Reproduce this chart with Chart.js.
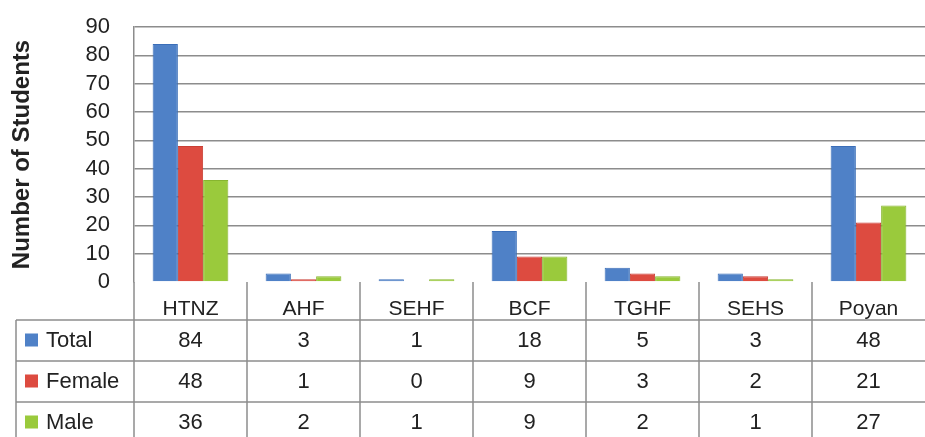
<!DOCTYPE html>
<html lang="en">
<head>
    <meta charset="UTF-8">
    <title>Number of Students</title>
    <script src="https://cdn.jsdelivr.net/npm/chart.js"></script>
    <style>
        body {
            margin: 0;
            background-color: #ffffff;
        }
        #chart {
            display: block;
        }
    </style>
</head>
<body>
    <canvas id="chart" width="925" height="437"></canvas>

    <script>
        // data
        const categories = ['HTNZ', 'AHF', 'SEHF', 'BCF', 'TGHF', 'SEHS', 'Poyan'];
        const totalValues = [84, 3, 1, 18, 5, 3, 48];
        const femaleValues = [48, 1, 0, 9, 3, 2, 21];
        const maleValues = [36, 2, 1, 9, 2, 1, 27];
        const yTicks = [0, 10, 20, 30, 40, 50, 60, 70, 80, 90];

        const seriesNames = ['Total', 'Female', 'Male'];
        const seriesFill = ['#4f81c7', '#dd4b40', '#9aca3c'];
        const seriesBorder = ['#3b6eb8', '#c93f35', '#87b52f'];
        const seriesValues = [totalValues, femaleValues, maleValues];

        const lineGray = '#8c8c8c';
        const textColor = '#222222';
        const fontFamily = "'Liberation Sans', Arial, sans-serif";

        // table drawn under the x axis, columns follow the x scale
        const dataTablePlugin = {
            id: 'dataTable',
            afterDraw(chart) {
                const ctx = chart.ctx;
                const area = chart.chartArea;
                const xScale = chart.scales.x;
                const colW = (area.right - area.left) / categories.length;
                const rowTop = 320;
                const rowH = 41;
                const tableLeft = 16;
                const bottom = chart.height;

                ctx.save();
                ctx.strokeStyle = lineGray;
                ctx.lineWidth = 1.5;

                // vertical lines between columns
                for (let i = 0; i < categories.length; i++) {
                    const x = area.left + i * colW;
                    ctx.beginPath();
                    ctx.moveTo(x, area.bottom);
                    ctx.lineTo(x, bottom);
                    ctx.stroke();
                }
                // left border of legend column
                ctx.beginPath();
                ctx.moveTo(tableLeft, rowTop);
                ctx.lineTo(tableLeft, bottom);
                ctx.stroke();

                // row lines
                for (let r = 0; r < seriesNames.length; r++) {
                    const y = rowTop + r * rowH;
                    ctx.beginPath();
                    ctx.moveTo(tableLeft, y);
                    ctx.lineTo(area.right, y);
                    ctx.stroke();
                }

                ctx.font = '22px ' + fontFamily;
                ctx.textBaseline = 'middle';
                for (let r = 0; r < seriesNames.length; r++) {
                    const cy = rowTop + r * rowH + rowH / 2;
                    // legend key
                    ctx.fillStyle = seriesFill[r];
                    ctx.fillRect(25, cy - 7, 13, 13);
                    ctx.fillStyle = textColor;
                    ctx.textAlign = 'left';
                    ctx.fillText(seriesNames[r], 46, cy);
                    // values
                    ctx.textAlign = 'center';
                    seriesValues[r].forEach((v, i) => {
                        ctx.fillText(String(v), xScale.getPixelForValue(i), cy);
                    });
                }
                ctx.restore();
            }
        };

        const ctx = document.getElementById('chart').getContext('2d');
        new Chart(ctx, {
            type: 'bar',
            data: {
                labels: categories,
                datasets: seriesNames.map((name, i) => ({
                    label: name,
                    data: seriesValues[i],
                    backgroundColor: seriesFill[i],
                    borderColor: seriesBorder[i],
                    borderWidth: 1,
                    categoryPercentage: 0.67,
                    barPercentage: 1.0
                }))
            },
            options: {
                responsive: false,
                animation: false,
                devicePixelRatio: 1,
                layout: {
                    padding: { top: 27, right: 0, left: 0, bottom: 0 }
                },
                plugins: {
                    legend: { display: false },
                    tooltip: { enabled: false }
                },
                scales: {
                    x: {
                        grid: { display: false },
                        border: { display: false },
                        ticks: {
                            color: textColor,
                            padding: 7,
                            font: { family: fontFamily, size: 21 }
                        },
                        afterFit(scale) {
                            scale.height = 155;
                            scale.paddingLeft = 0;
                            scale.paddingRight = 0;
                        }
                    },
                    y: {
                        min: 0,
                        max: 90,
                        afterBuildTicks(scale) {
                            scale.ticks = yTicks.map(v => ({ value: v }));
                        },
                        grid: {
                            drawTicks: false,
                            lineWidth: 1.5,
                            color: c => (c.tick && c.tick.value === 0 ? 'rgba(0,0,0,0)' : lineGray)
                        },
                        border: { display: true, color: lineGray, width: 1.5 },
                        ticks: {
                            autoSkip: false,
                            color: textColor,
                            padding: 24,
                            font: { family: fontFamily, size: 22 }
                        },
                        title: {
                            display: true,
                            text: 'Number of Students',
                            color: textColor,
                            padding: { top: 8, bottom: 0 },
                            font: { family: fontFamily, size: 24, weight: 'bold' }
                        },
                        afterFit(scale) {
                            scale.width = 134;
                            scale.paddingTop = 0;
                            scale.paddingBottom = 0;
                        }
                    }
                }
            },
            plugins: [dataTablePlugin]
        });
    </script>
</body>
</html>
